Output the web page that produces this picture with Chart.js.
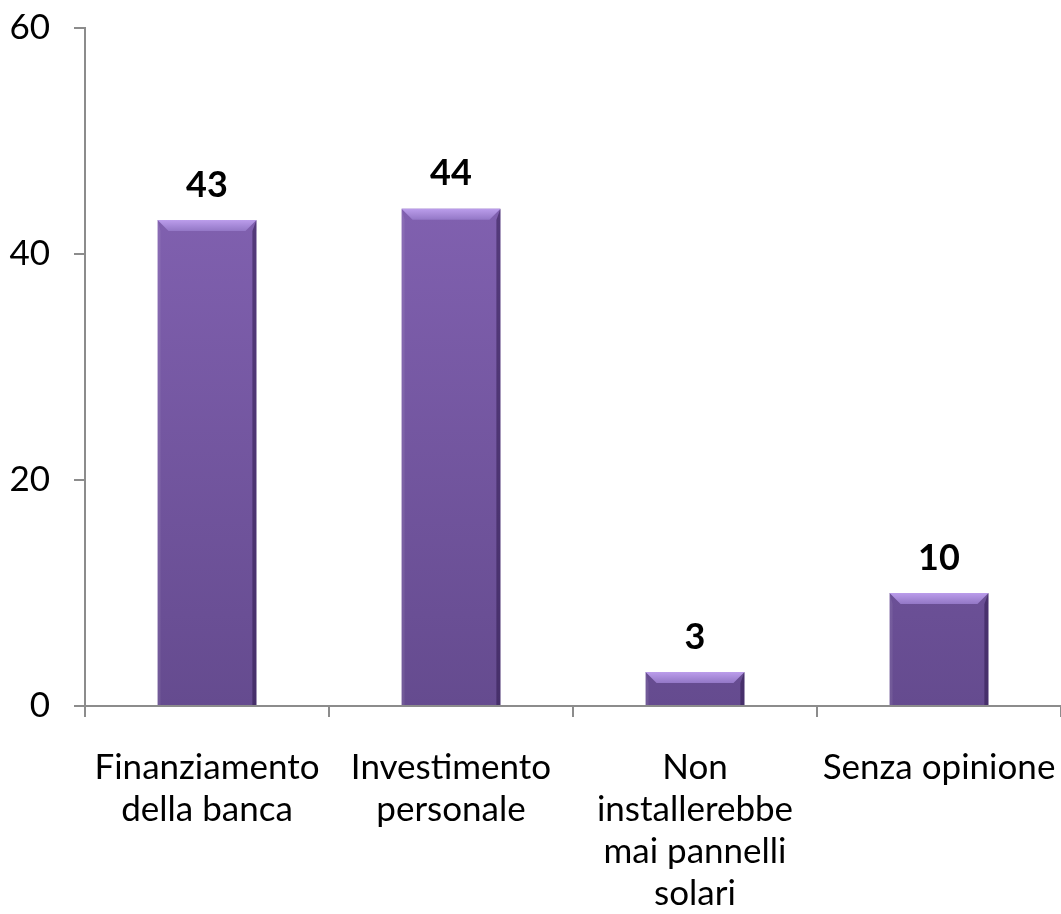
<!DOCTYPE html>
<html>
<head>
<meta charset="utf-8">
<script src="https://cdn.jsdelivr.net/npm/chart.js@4/dist/chart.umd.min.js"></script>
<style>
  html, body { margin: 0; padding: 0; background: #fff; }
  #wrap { width: 1061px; height: 914px; }
</style>
</head>
<body>
<div id="wrap"><canvas id="chart"></canvas></div>
<script>
const categorie = [
  ["Finanziamento", "della banca"],
  ["Investimento", "personale"],
  ["Non", "installerebbe", "mai pannelli", "solari"],
  ["Senza opinione"]
];
const valori = [43, 44, 3, 10];
const tickY = [0, 20, 40, 60];

const FONT = "Lato, 'Open Sans', sans-serif";

// bevel + value labels drawn from the bar elements
const barStyle = {
  id: "barStyle",
  afterDatasetsDraw(chart) {
    const ctx = chart.ctx;
    chart.getDatasetMeta(0).data.forEach((bar, i) => {
      const { x, y, base, width } = bar.getProps(["x", "y", "base", "width"], true);
      const l = x - width / 2, r = x + width / 2;
      const b = Math.min(11, (base - y) / 2);
      ctx.save();
      // top bevel
      ctx.beginPath();
      ctx.moveTo(l, y); ctx.lineTo(r, y); ctx.lineTo(r - b, y + b); ctx.lineTo(l + b, y + b); ctx.closePath();
      const gt = ctx.createLinearGradient(0, y, 0, y + b);
      gt.addColorStop(0, "#bb9deb"); gt.addColorStop(1, "#9377c6");
      ctx.fillStyle = gt; ctx.fill();
      // right side darker
      ctx.beginPath();
      ctx.moveTo(r, y); ctx.lineTo(r, base); ctx.lineTo(r - 4, base); ctx.lineTo(r - 4, y + b); ctx.closePath();
      ctx.fillStyle = "rgba(40,20,70,0.5)"; ctx.fill();
      // left side slight highlight
      ctx.beginPath();
      ctx.moveTo(l, y); ctx.lineTo(l + 3, y + b); ctx.lineTo(l + 3, base); ctx.lineTo(l, base); ctx.closePath();
      ctx.fillStyle = "rgba(255,255,255,0.08)"; ctx.fill();
      // value label
      ctx.fillStyle = "#000";
      ctx.font = "bold 36px " + FONT;
      ctx.textAlign = "center";
      ctx.textBaseline = "middle";
      ctx.fillText(String(valori[i]), x, y - 35);
      ctx.restore();
    });
  }
};

new Chart(document.getElementById("chart"), {
  type: "bar",
  data: {
    labels: categorie,
    datasets: [{
      data: valori,
      categoryPercentage: 1,
      barPercentage: 0.405,
      borderWidth: 0,
      backgroundColor(c) {
        const area = c.chart.chartArea;
        if (!area) return "#7a5aa5";
        const g = c.chart.ctx.createLinearGradient(0, area.top, 0, area.bottom);
        g.addColorStop(0, "#8a68bb");
        g.addColorStop(1, "#654b8f");
        return g;
      }
    }]
  },
  options: {
    responsive: true,
    maintainAspectRatio: false,
    animation: false,
    layout: { padding: { top: 28, right: -4, left: 0, bottom: 0 } },
    plugins: { legend: { display: false }, tooltip: { enabled: false } },
    scales: {
      x: {
        afterFit(axis) { axis.height = 208; axis.paddingLeft = 0; axis.paddingRight = 0; },
        grid: { display: true, drawOnChartArea: false, drawTicks: true, tickLength: 11, color: "#8c8c8c", lineWidth: 2, offset: true },
        border: { display: true, color: "#8c8c8c", width: 2 },
        ticks: { color: "#000", font: { family: FONT, size: 35, lineHeight: 1.2 }, padding: 30, maxRotation: 0, autoSkip: false }
      },
      y: {
        min: 0, max: 60,
        afterBuildTicks(axis) { axis.ticks = tickY.map(v => ({ value: v })); },
        afterFit(axis) { axis.width = 85; axis.paddingTop = 0; axis.paddingBottom = 0; },
        grid: { drawOnChartArea: false, drawTicks: true, tickLength: 11, color: "#8c8c8c", lineWidth: 2 },
        border: { display: true, color: "#8c8c8c", width: 2 },
        ticks: { color: "#000", font: { family: FONT, size: 35 }, padding: 24 }
      }
    }
  },
  plugins: [barStyle]
});
</script>
</body>
</html>
